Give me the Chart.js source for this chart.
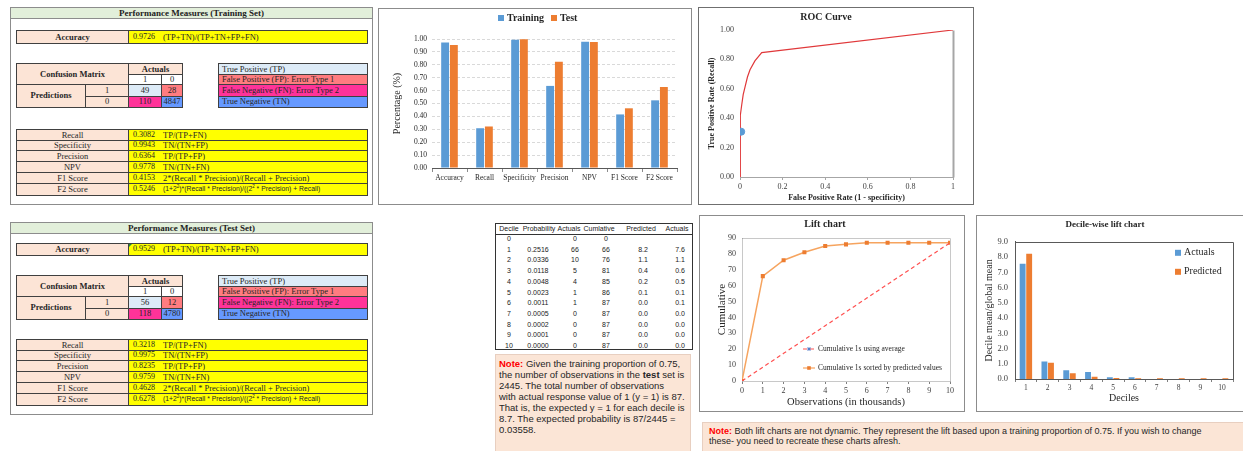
<!DOCTYPE html>
<html>
<head>
<meta charset="utf-8">
<script src="https://cdn.jsdelivr.net/npm/chart.js@4.4.1/dist/chart.umd.min.js"></script>
<style>
  body { margin: 0; width: 1243px; height: 451px; overflow: hidden; background: #fff; position: relative; font-family: 'Liberation Serif', 'Times New Roman', serif; }
  .box { position: absolute; box-sizing: border-box; border: 1px solid #8c8c8c; background: #fff; }
  .head { position: absolute; box-sizing: border-box; background: #e2efda; border: 1px solid #8c8c8c; font-weight: bold; font-size: 9px; color: #222; display: flex; align-items: center; justify-content: center; }
  .cell { position: absolute; box-sizing: border-box; border: 1px solid #404040; display: flex; align-items: center; justify-content: center; font-size: 8.5px; line-height: 1; color: #262626; white-space: nowrap; background: #fff; }
  .cell.left { justify-content: flex-start; padding-left: 3px; }
  .cell b { font-weight: bold; }
  .cell .num, .cell .f { position: absolute; top: 50%; transform: translateY(-50%); }
  .cell .num { left: 4px; font-size: 8px; }
  .cell .f { left: 34px; font-size: 8.5px; }
  .cell .f.sans { font-family: 'Liberation Sans', Arial, sans-serif; font-size: 6.8px; }
  .cell sup { font-size: 4.5px; vertical-align: 3px; }
  .corner { position: absolute; width: 0; height: 0; border-top: 3px solid #1e8f3a; border-right: 3px solid transparent; }
  canvas { position: absolute; }
  .dtable { position: absolute; left: 495px; top: 223px; width: 198px; height: 127px; box-sizing: border-box; border: 1px solid #333; font-family: 'Liberation Sans', Arial, sans-serif; font-size: 7px; color: #222; }
  .dtable .hr { position: absolute; left: 0; right: 0; top: 10px; border-top: 1px solid #333; }
  .dtable span { position: absolute; width: 40px; text-align: center; line-height: 10px; white-space: nowrap; }
  .note { position: absolute; box-sizing: border-box; background: #fbe5d6; border: 1px solid #e8cfc0; font-family: 'Liberation Sans', Arial, sans-serif; color: #262626; white-space: nowrap; }
  .note .red { color: #ff0000; font-weight: bold; }
</style>
</head>
<body>

<div class="box" style="left:378px;top:8px;width:314px;height:197px;"></div>
<canvas id="barChart" width="311" height="194" style="left:379px;top:9px;"></canvas>

<div class="box" style="left:698px;top:7px;width:276px;height:198px;border-color:#6f6f6f;"></div>
<canvas id="rocChart" width="274" height="196" style="left:699px;top:8px;"></canvas>

<div class="box" style="left:699px;top:215px;width:266px;height:197px;"></div>
<canvas id="liftChart" width="264" height="195" style="left:700px;top:216px;"></canvas>

<div class="box" style="left:976px;top:215px;width:290px;height:197px;"></div>
<canvas id="decileChart" width="266" height="195" style="left:977px;top:216px;"></canvas>

<div class="dtable" id="dtable"><div class="hr"></div></div>

<div class="note" style="left:495px;top:354px;width:196px;height:110px;padding:3px 0 0 3px;font-size:9.5px;line-height:11px;">
<span class="red">Note:</span> Given the training proportion of 0.75,<br>
the number of observations in the <b>test</b> set is<br>
2445. The total number of observations<br>
with actual response value of 1 (y = 1) is 87.<br>
That is, the expected y = 1 for each decile is<br>
8.7. The expected probability is 87/2445 =<br>
0.03558.
</div>

<div class="note" style="left:702px;top:422px;width:560px;height:40px;padding:3px 0 0 6px;font-size:9px;line-height:10px;">
<span class="red">Note:</span> Both lift charts are not dynamic. They represent the lift based upon a training proportion of 0.75. If you wish to change<br>
these- you need to recreate these charts afresh.
</div>

<script>
// ---- performance measures ----
const metricLabels = ['Accuracy', 'Recall', 'Specificity', 'Precision', 'NPV', 'F1 Score', 'F2 Score'];
const trainValues = [0.9726, 0.3082, 0.9943, 0.6364, 0.9778, 0.4153, 0.5246];
const testValues = [0.9529, 0.3218, 0.9975, 0.8235, 0.9759, 0.4628, 0.6278];
const trainMatrix = [49, 28, 110, 4847];   // TP, FP, FN, TN
const testMatrix = [56, 12, 118, 4780];
const formulas = [
  '(TP+TN)/(TP+TN+FP+FN)',
  'TP/(TP+FN)',
  'TN/(TN+FP)',
  'TP/(TP+FP)',
  'TN/(TN+FN)',
  '2*(Recall * Precision)/(Recall + Precision)',
  '(1+2<sup>2</sup>)*(Recall * Precision)/((2<sup>2</sup> * Precision) + Recall)'
];
const legendNames = ['True Positive (TP)', 'False Positive (FP): Error Type 1', 'False Negative (FN): Error Type 2', 'True Negative (TN)'];

// ---- ROC ----
const rocFpr = [0, 0, 0.003, 0.008, 0.015, 0.024, 0.035, 0.047, 0.07, 0.102, 1];
const rocTpr = [0, 0.31, 0.42, 0.49, 0.56, 0.615, 0.68, 0.73, 0.79, 0.846, 1];
const trainPoint = { x: 0.0057, y: 0.3082 };

// ---- lift table ----
const deciles = [0, 1, 2, 3, 4, 5, 6, 7, 8, 9, 10];
const probability = ['', '0.2516', '0.0336', '0.0118', '0.0048', '0.0023', '0.0011', '0.0005', '0.0002', '0.0001', '0.0000'];
const actualCounts = [0, 66, 10, 5, 4, 1, 1, 0, 0, 0, 0];
const cumulative = [0, 66, 76, 81, 85, 86, 87, 87, 87, 87, 87];
const predictedText = ['', '8.2', '1.1', '0.4', '0.2', '0.1', '0.0', '0.0', '0.0', '0.0', '0.0'];
const actualText = ['', '7.6', '1.1', '0.6', '0.5', '0.1', '0.1', '0.0', '0.0', '0.0', '0.0'];
const averageCumulative = [0, 8.7, 17.4, 26.1, 34.8, 43.5, 52.2, 60.9, 69.6, 78.3, 87];

// ---- decile-wise lift ----
const decileLabels = ['1', '2', '3', '4', '5', '6', '7', '8', '9', '10'];
const decileActuals = [7.56, 1.15, 0.57, 0.46, 0.11, 0.11, 0, 0, 0, 0];
const decilePredicted = [8.22, 1.07, 0.37, 0.15, 0.06, 0.05, 0.05, 0.05, 0.05, 0.05];

const SALMON = '#fce4d6', YELLOW = '#ffff00';
const CM_COLORS = ['#ddebf7', '#ff7c80', '#ff3399', '#6699ff'];

function cell(x, y, w, h, html, bg, cls) {
  const d = document.createElement('div');
  d.className = 'cell ' + (cls || '');
  d.style.left = x + 'px';
  d.style.top = y + 'px';
  d.style.width = (w + 1) + 'px';
  d.style.height = (h + 1) + 'px';
  if (bg) d.style.background = bg;
  d.innerHTML = html;
  document.body.appendChild(d);
  return d;
}

function valueCell(y, h, value, formula, sans) {
  cell(128, y, 239, h,
    `<span class="num">${value.toFixed(4)}</span><span class="f${sans ? ' sans' : ''}">${formula}</span>`,
    YELLOW);
}

function buildPanel(p, title, values, matrix) {
  const box = document.createElement('div');
  box.className = 'box';
  Object.assign(box.style, { left: '10px', top: p.top + 'px', width: '363px', height: p.height + 'px' });
  document.body.appendChild(box);
  const head = document.createElement('div');
  head.className = 'head';
  Object.assign(head.style, { left: '10px', top: p.top + 'px', width: '363px', height: p.head + 'px' });
  head.textContent = title;
  document.body.appendChild(head);

  cell(16, p.acc, 112, p.accH, '<b>Accuracy</b>', SALMON);
  valueCell(p.acc, p.accH, values[0], formulas[0]);
  if (p.flag) {
    const c = document.createElement('div');
    c.className = 'corner';
    Object.assign(c.style, { left: '129px', top: (p.acc + 1) + 'px' });
    document.body.appendChild(c);
  }

  const r = [0, 10.5, 20.5, 32.5, 43.5].map(v => p.conf + v);
  cell(16, r[0], 112, r[2] - r[0], '<b>Confusion Matrix</b>', SALMON);
  cell(128, r[0], 54, r[1] - r[0], '<b>Actuals</b>', SALMON);
  cell(128, r[1], 33, r[2] - r[1], '1');
  cell(161, r[1], 21, r[2] - r[1], '0');
  cell(16, r[2], 69, r[4] - r[2], '<b>Predictions</b>', SALMON);
  cell(85, r[2], 43, r[3] - r[2], '1', SALMON);
  cell(85, r[3], 43, r[4] - r[3], '0', SALMON);
  cell(128, r[2], 33, r[3] - r[2], matrix[0], CM_COLORS[0]);
  cell(161, r[2], 21, r[3] - r[2], matrix[1], CM_COLORS[1]);
  cell(128, r[3], 33, r[4] - r[3], matrix[2], CM_COLORS[2]);
  cell(161, r[3], 21, r[4] - r[3], matrix[3], CM_COLORS[3]);
  legendNames.forEach((name, i) => {
    cell(218, r[i], 149, r[i + 1] - r[i], name, CM_COLORS[i], 'left');
  });

  const hs = [10.5, 10.5, 11, 11, 11, 11.5];
  let y = p.met;
  for (let i = 1; i < metricLabels.length; i++) {
    const h = hs[i - 1];
    cell(16, y, 112, h, metricLabels[i], SALMON);
    valueCell(y, h, values[i], formulas[i], i === 6);
    y += h;
  }
}

buildPanel({ top: 7, height: 198, head: 12, acc: 30, accH: 13, conf: 63, met: 129 },
  'Performance Measures (Training Set)', trainValues, trainMatrix);
buildPanel({ top: 222, height: 193, head: 11.5, acc: 243, accH: 11.5, conf: 275, met: 339, flag: true },
  'Performance Measures (Test Set)', testValues, testMatrix);

// lift table
const headCenters = [13, 43, 73, 103, 145, 181];
const colCenters = [13, 42, 79, 110, 147, 184];
const headers = ['Decile', 'Probability', 'Actuals', 'Cumlative', 'Predicted', 'Actuals'];
const dt = document.getElementById('dtable');
function tcell(text, center, top) {
  const s = document.createElement('span');
  s.textContent = text;
  s.style.left = (center - 20) + 'px';
  s.style.top = top + 'px';
  dt.appendChild(s);
}
headers.forEach((h, i) => tcell(h, headCenters[i], 0));
deciles.forEach((d, i) => {
  const top = 10 + i * 10.7;
  [d, probability[i], actualCounts[i], cumulative[i], predictedText[i], actualText[i]]
    .forEach((v, c) => tcell(v, colCenters[c], top));
});

// ---- charts ----
Chart.defaults.font.family = "'Liberation Serif', 'Times New Roman', serif";
Chart.defaults.color = '#404040';
Chart.defaults.animation = false;
Chart.defaults.plugins.legend.display = false;
Chart.defaults.plugins.tooltip.enabled = false;

// legend drawn at fixed spots relative to the plot area
const boxLegend = {
  id: 'boxLegend',
  afterDraw(chart, args, opts) {
    const { ctx, chartArea } = chart;
    ctx.save();
    ctx.font = opts.font;
    ctx.textBaseline = 'middle';
    chart.data.datasets.forEach((ds, i) => {
      const it = opts.items[i];
      if (!it) return;
      const x = chartArea.left + it.x, y = chartArea.top + it.y;
      let tx;
      if (it.line) {
        ctx.strokeStyle = ds.borderColor;
        ctx.lineWidth = 1.2;
        ctx.setLineDash(ds.borderDash || []);
        ctx.beginPath();
        ctx.moveTo(x, y); ctx.lineTo(x + it.line, y);
        ctx.stroke();
        ctx.setLineDash([]);
        const cx = x + it.line / 2;
        if (it.point === 'rect') {
          ctx.fillStyle = ds.pointBackgroundColor;
          ctx.fillRect(cx - 1.8, y - 1.8, 3.6, 3.6);
        } else if (it.point === 'star') {
          ctx.strokeStyle = it.pointColor;
          ctx.lineWidth = 0.8;
          ctx.beginPath();
          ctx.moveTo(cx - 2, y); ctx.lineTo(cx + 2, y);
          ctx.moveTo(cx, y - 2); ctx.lineTo(cx, y + 2);
          ctx.moveTo(cx - 1.5, y - 1.5); ctx.lineTo(cx + 1.5, y + 1.5);
          ctx.moveTo(cx - 1.5, y + 1.5); ctx.lineTo(cx + 1.5, y - 1.5);
          ctx.stroke();
        }
        tx = x + it.line + 3;
      } else {
        ctx.fillStyle = ds.backgroundColor;
        ctx.fillRect(x, y - opts.size / 2, opts.size, opts.size);
        tx = x + opts.size + 3;
      }
      ctx.fillStyle = opts.color || '#262626';
      ctx.fillText(ds.label, tx, y);
    });
    ctx.restore();
  }
};

// outline of the plot area (all sides or only some)
const plotFrame = {
  id: 'plotFrame',
  beforeDatasetsDraw(chart, args, opts) {
    const a = chart.chartArea, ctx = chart.ctx;
    const l = Math.round(a.left) + 0.5, r = Math.round(a.right) + 0.5;
    const t = Math.round(a.top) + 0.5, b = Math.round(a.bottom) + 0.5;
    const sides = opts.sides || ['top', 'right', 'bottom', 'left'];
    ctx.save();
    ctx.strokeStyle = opts.color;
    ctx.lineWidth = opts.width || 1;
    ctx.beginPath();
    if (sides.includes('top')) { ctx.moveTo(l, t); ctx.lineTo(r, t); }
    if (sides.includes('right')) { ctx.moveTo(r, t); ctx.lineTo(r, b); }
    if (sides.includes('bottom')) { ctx.moveTo(l, b); ctx.lineTo(r, b); }
    if (sides.includes('left')) { ctx.moveTo(l, t); ctx.lineTo(l, b); }
    ctx.stroke();
    ctx.restore();
  }
};

// Training vs test bars
new Chart(document.getElementById('barChart'), {
  type: 'bar',
  data: {
    labels: metricLabels,
    datasets: [
      { label: 'Training', data: trainValues, backgroundColor: '#5b9bd5' },
      { label: 'Test', data: testValues, backgroundColor: '#ed7d31' }
    ]
  },
  options: {
    responsive: false,
    layout: { padding: { left: 0, right: 13, top: 30, bottom: 0 } },
    datasets: { bar: { categoryPercentage: 0.5, barPercentage: 0.9 } },
    plugins: {
      boxLegend: { font: "bold 10px 'Liberation Serif'", size: 6, items: [{ x: 66, y: -21 }, { x: 119, y: -21 }] }
    },
    scales: {
      x: {
        grid: { drawOnChartArea: false, tickLength: 4, color: '#8c8c8c' },
        border: { color: '#595959' },
        ticks: { font: { size: 7.5 }, padding: 2, color: '#262626', maxRotation: 0, autoSkip: false },
        afterFit(s) { s.height = 35; }
      },
      y: {
        min: 0, max: 1,
        ticks: { stepSize: 0.1, callback: v => Number(v).toFixed(2), font: { size: 7.5 }, padding: 5, color: '#262626' },
        grid: { color: '#d9d9d9', drawTicks: false },
        border: { display: false, dash: [3, 2] },
        title: { display: true, text: 'Percentage (%)', font: { size: 10 }, color: '#262626', padding: { top: 12 } },
        afterFit(s) { s.width = 53; }
      }
    }
  },
  plugins: [boxLegend]
});

// ROC curve
new Chart(document.getElementById('rocChart'), {
  type: 'line',
  data: {
    datasets: [
      { type: 'scatter', label: 'Training', data: [trainPoint], backgroundColor: '#5b9bd5', borderColor: '#5b9bd5', pointRadius: 3.5, order: 0 },
      { label: 'ROC', data: rocFpr.map((x, i) => ({ x, y: rocTpr[i] })), borderColor: '#e0383a', borderWidth: 1.2, pointRadius: 0, order: 1 }
    ]
  },
  options: {
    responsive: false,
    layout: { padding: { left: 0, right: 20, top: 0, bottom: 0 } },
    plugins: {
      title: { display: true, text: 'ROC Curve', font: { size: 10, weight: 'bold' }, color: '#262626', padding: { top: 3, bottom: 7 } },
      plotFrame: { color: '#a6a6a6', width: 2, sides: ['right'] }
    },
    scales: {
      x: {
        type: 'linear', min: 0, max: 1,
        ticks: { stepSize: 0.2, callback: v => String(Number(Number(v).toFixed(1))), font: { size: 8 }, padding: 2, color: '#404040' },
        grid: { drawOnChartArea: false, tickLength: 3, color: '#a6a6a6' },
        border: { color: '#a6a6a6' },
        title: { display: true, text: 'False Positive Rate (1 - specificity)', font: { size: 8, weight: 'bold' }, color: '#262626', padding: { top: 0, bottom: 1 } },
        afterFit(s) { s.height = 27; }
      },
      y: {
        min: 0, max: 1,
        ticks: { stepSize: 0.2, callback: v => Number(v).toFixed(2), font: { size: 8 }, padding: 6, color: '#404040' },
        grid: { display: false, drawTicks: false },
        border: { display: false },
        title: { display: true, text: 'True Positive Rate (Recall)', font: { size: 8, weight: 'bold' }, color: '#262626', padding: { top: 8 } },
        afterFit(s) { s.width = 41; }
      }
    }
  },
  plugins: [plotFrame]
});

// Lift chart
new Chart(document.getElementById('liftChart'), {
  type: 'line',
  data: {
    datasets: [
      { label: 'Cumulative 1s using average', data: deciles.map((x, i) => ({ x, y: averageCumulative[i] })),
        borderColor: '#ff5050', borderDash: [4, 3], borderWidth: 1.2, pointRadius: 0 },
      { label: 'Cumulative 1s sorted by predicted values', data: deciles.map((x, i) => ({ x, y: cumulative[i] })),
        borderColor: '#f6a45f', borderWidth: 1.5, pointStyle: 'rect', pointRadius: 1.8,
        pointBackgroundColor: '#ed7d31', pointBorderColor: '#ed7d31' }
    ]
  },
  options: {
    responsive: false,
    layout: { padding: { left: 0, right: 14, top: 0, bottom: 0 } },
    plugins: {
      title: { display: true, text: 'Lift chart', font: { size: 10, weight: 'bold' }, color: '#262626', padding: { top: 2, bottom: 8 } },
      plotFrame: { color: '#c8c8c8' },
      boxLegend: { font: "7.5px 'Liberation Serif'", items: [
        { x: 61, y: 111, line: 12, point: 'star', pointColor: '#4472c4' },
        { x: 61, y: 130, line: 12, point: 'rect' }
      ] }
    },
    scales: {
      x: {
        type: 'linear', min: 0, max: 10,
        ticks: { stepSize: 1, font: { size: 8 }, padding: 2, color: '#404040' },
        grid: { drawOnChartArea: false, tickLength: 3, color: '#7f7f7f' },
        border: { color: '#595959' },
        title: { display: true, text: 'Observations (in thousands)', font: { size: 10.5 }, color: '#262626', padding: { top: 0, bottom: 2 } },
        afterFit(s) { s.height = 30; }
      },
      y: {
        min: 0, max: 90,
        ticks: { stepSize: 10, font: { size: 8 }, padding: 6, color: '#404040' },
        grid: { display: false, drawTicks: false },
        border: { color: '#404040' },
        title: { display: true, text: 'Cumulative', font: { size: 11 }, color: '#262626', padding: { top: 16 } },
        afterFit(s) { s.width = 42; }
      }
    }
  },
  plugins: [plotFrame, boxLegend]
});

// Decile-wise lift chart
new Chart(document.getElementById('decileChart'), {
  type: 'bar',
  data: {
    labels: decileLabels,
    datasets: [
      { label: 'Actuals', data: decileActuals, backgroundColor: '#5b9bd5' },
      { label: 'Predicted', data: decilePredicted, backgroundColor: '#ed7d31' }
    ]
  },
  options: {
    responsive: false,
    layout: { padding: { left: 0, right: 10, top: 0, bottom: 0 } },
    datasets: { bar: { categoryPercentage: 0.6, barPercentage: 0.9 } },
    plugins: {
      title: { display: true, text: 'Decile-wise lift chart', font: { size: 9, weight: 'bold' }, color: '#262626', padding: { top: 3, bottom: 12 } },
      plotFrame: { color: '#595959' },
      boxLegend: { font: "10px 'Liberation Serif'", size: 6, items: [{ x: 160, y: 11 }, { x: 160, y: 30 }] }
    },
    scales: {
      x: {
        ticks: { font: { size: 7.5 }, padding: 2, color: '#404040', autoSkip: false },
        grid: { drawOnChartArea: false, tickLength: 3, color: '#7f7f7f' },
        border: { color: '#595959' },
        title: { display: true, text: 'Deciles', font: { size: 10 }, color: '#262626', padding: { top: 0, bottom: 7 } },
        afterFit(s) { s.height = 32; }
      },
      y: {
        min: 0, max: 9,
        ticks: { stepSize: 1, callback: v => Number(v).toFixed(1), font: { size: 8.5 }, padding: 7, color: '#404040' },
        grid: { display: false, drawTicks: false },
        border: { color: '#595959' },
        title: { display: true, text: 'Decile mean/global mean', font: { size: 10 }, color: '#262626', padding: { top: 6 } },
        afterFit(s) { s.width = 38; }
      }
    }
  },
  plugins: [plotFrame, boxLegend]
});
</script>
</body>
</html>
